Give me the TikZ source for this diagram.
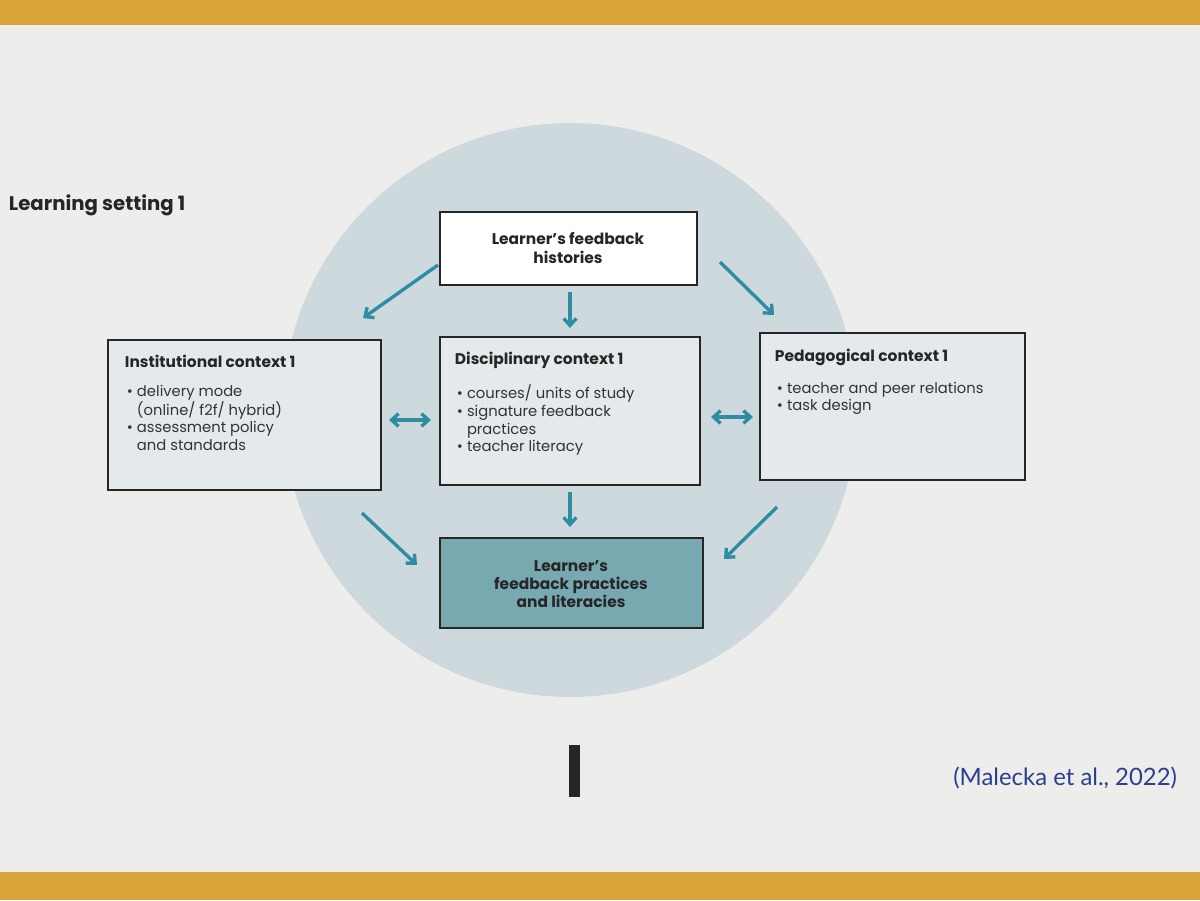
\documentclass[tikz,border=0pt]{standalone}
\usepackage{fontspec}
\setmainfont{Poppins}
\newfontfamily\citefont{Lato}
\usetikzlibrary{arrows.meta}
\definecolor{gold}{HTML}{D9A53A}
\definecolor{screen}{HTML}{EDEEEC}
\definecolor{circ}{HTML}{CDD9DD}
\definecolor{boxfill}{HTML}{E4EAEC}
\definecolor{teal1}{HTML}{2E8DA3}
\definecolor{tealbox}{HTML}{78A9B1}
\definecolor{citeblue}{HTML}{2A3F8F}
\begin{document}
\begin{tikzpicture}[x=0.025cm,y=-0.025cm,
  bx/.style={draw=black!85,line width=1.6pt,inner sep=0pt},
  hd/.style={font=\bfseries\fontsize{11}{13}\selectfont,align=center,text=black!85},
  bl/.style={font=\fontsize{10.5}{12.5}\selectfont,align=left,text=black!80},
  ar/.style={draw=teal1,line width=2.4pt,-{Straight Barb[length=5pt,width=9pt]}},
  dar/.style={draw=teal1,line width=2.4pt,{Straight Barb[length=5pt,width=9pt]}-{Straight Barb[length=5pt,width=9pt]}}]
\fill[gold] (0,0) rectangle (1200,900);
\fill[screen] (0,25) rectangle (1200,872);
\fill[circ] (570,410) circle (287);
% boxes
\draw[bx,fill=white] (440,212) rectangle (697,285);
\node[hd] (top) at (568,248) {Learner’s feedback\\histories};
\draw[bx,fill=boxfill] (108,340) rectangle (381,490);
\node[hd,anchor=north west] (inst) at (120,350) {Institutional context 1};
\node[bl,anchor=north west] (instb) at (122,380) {• delivery mode\\\phantom{• }(online/ f2f/ hybrid)\\• assessment policy\\\phantom{• }and standards};
\draw[bx,fill=boxfill] (440,337) rectangle (700,485);
\node[hd,anchor=north west] (disc) at (450,347) {Disciplinary context 1};
\node[bl,anchor=north west] (discb) at (452,380) {• courses/ units of study\\• signature feedback\\\phantom{• }practices\\• teacher literacy};
\draw[bx,fill=boxfill] (760,333) rectangle (1025,480);
\node[hd,anchor=north west] (ped) at (770,344) {Pedagogical context 1};
\node[bl,anchor=north west] (pedb) at (772,377) {• teacher and peer relations\\• task design};
\draw[bx,fill=tealbox] (440,538) rectangle (703,628);
\node[hd] (bot) at (571,584) {Learner’s\\feedback practices\\and literacies};
% arrows
\coordinate (a1) at (438,265); \coordinate (a2) at (363,318);
\coordinate (b1) at (720,262); \coordinate (b2) at (774,315);
\coordinate (c1) at (362,513); \coordinate (c2) at (417,565);
\coordinate (d1) at (777,507); \coordinate (d2) at (724,559);
\coordinate (e1) at (570,292); \coordinate (e2) at (570,328);
\coordinate (f1) at (570,492); \coordinate (f2) at (570,527);
\coordinate (g1) at (389,420); \coordinate (g2) at (431,420);
\coordinate (h1) at (711,417); \coordinate (h2) at (753,417);
\draw[ar] (a1) -- (a2); \draw[ar] (b1) -- (b2);
\draw[ar] (c1) -- (c2); \draw[ar] (d1) -- (d2);
\draw[ar] (e1) -- (e2); \draw[ar] (f1) -- (f2);
\draw[dar] (g1) -- (g2); \draw[dar] (h1) -- (h2);
\node[font=\bfseries\fontsize{14}{16}\selectfont,anchor=west,text=black!85] (title) at (4,205) {Learning setting 1};
\node[font=\citefont\fontsize{17}{20}\selectfont,text=citeblue,anchor=east] (cite) at (1182,778) {(Malecka et al., 2022)};
\fill[black!85] (569,745) rectangle (580,797);
\end{tikzpicture}
\end{document}
